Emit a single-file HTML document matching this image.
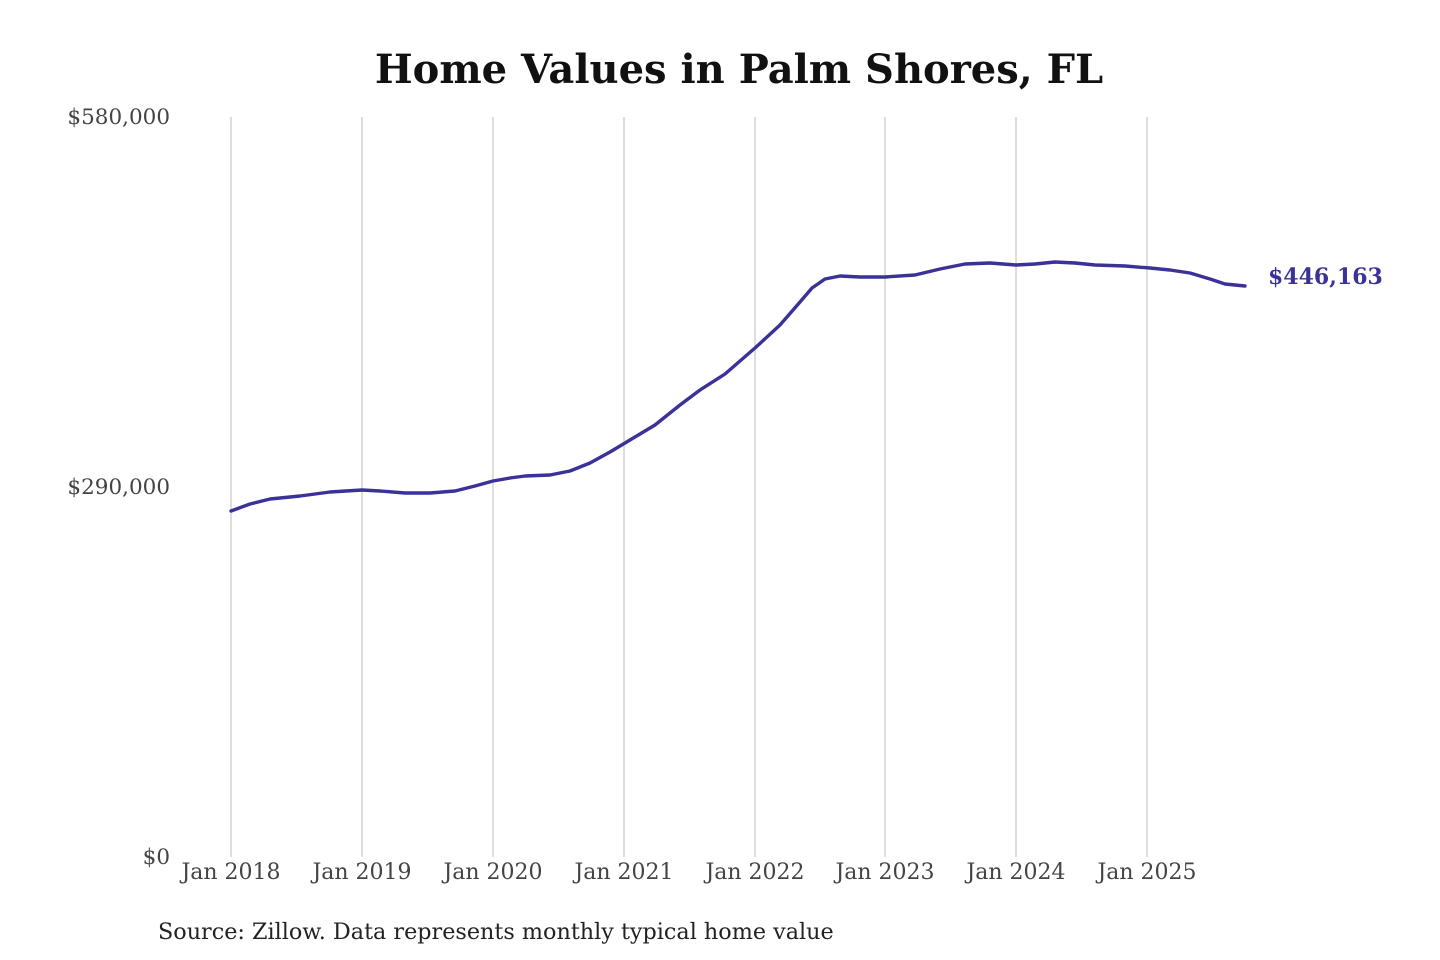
<!DOCTYPE html>
<html><head><meta charset="utf-8"><style>
html,body{margin:0;padding:0;background:#fff;}
svg{display:block;font-family:"DejaVu Serif","Liberation Serif",serif;}
</style></head><body>
<svg width="1440" height="960" viewBox="0 0 1440 960" xmlns="http://www.w3.org/2000/svg">
<rect width="1440" height="960" fill="#fff"/>
<text x="739" y="83" text-anchor="middle" font-size="40" font-weight="bold" fill="#111">Home Values in Palm Shores, FL</text>
<g stroke="#c8c8c8" stroke-width="1.2">
<line x1="231" y1="117" x2="231" y2="857"/>
<line x1="362" y1="117" x2="362" y2="857"/>
<line x1="493" y1="117" x2="493" y2="857"/>
<line x1="624" y1="117" x2="624" y2="857"/>
<line x1="755" y1="117" x2="755" y2="857"/>
<line x1="885" y1="117" x2="885" y2="857"/>
<line x1="1016" y1="117" x2="1016" y2="857"/>
<line x1="1147" y1="117" x2="1147" y2="857"/>
</g>
<g font-size="21.5" fill="#444" text-anchor="end">
<text x="170" y="124">$580,000</text>
<text x="170" y="494">$290,000</text>
<text x="170" y="864">$0</text>
</g>
<g font-size="22" fill="#444" text-anchor="middle">
<text x="231" y="879">Jan 2018</text>
<text x="362" y="879">Jan 2019</text>
<text x="493" y="879">Jan 2020</text>
<text x="624" y="879">Jan 2021</text>
<text x="755" y="879">Jan 2022</text>
<text x="885" y="879">Jan 2023</text>
<text x="1016" y="879">Jan 2024</text>
<text x="1147" y="879">Jan 2025</text>
</g>
<polyline fill="none" stroke="#3a3199" stroke-width="3.4" stroke-linejoin="round" stroke-linecap="round"
points="231,511 250,504 270,499 300,496 330,492 362,490 380,491 405,493 430,493 455,491 475,486 493,481 510,478 525,476 550,475 570,471 590,463 610,452 630,440 655,425 680,405 700,390 725,374 755,348 780,325 800,302 812,288 825,279 840,276 860,277 885,277 915,275 940,269 965,264 990,263 1016,265 1035,264 1055,262 1075,263 1095,265 1125,266 1150,268 1170,270 1190,273 1210,279 1225,284 1245,286"/>
<text x="1268" y="284" font-size="22" font-weight="bold" fill="#3a3199">$446,163</text>
<text x="158" y="939" font-size="22.3" fill="#222">Source: Zillow. Data represents monthly typical home value</text>
</svg>
</body></html>
